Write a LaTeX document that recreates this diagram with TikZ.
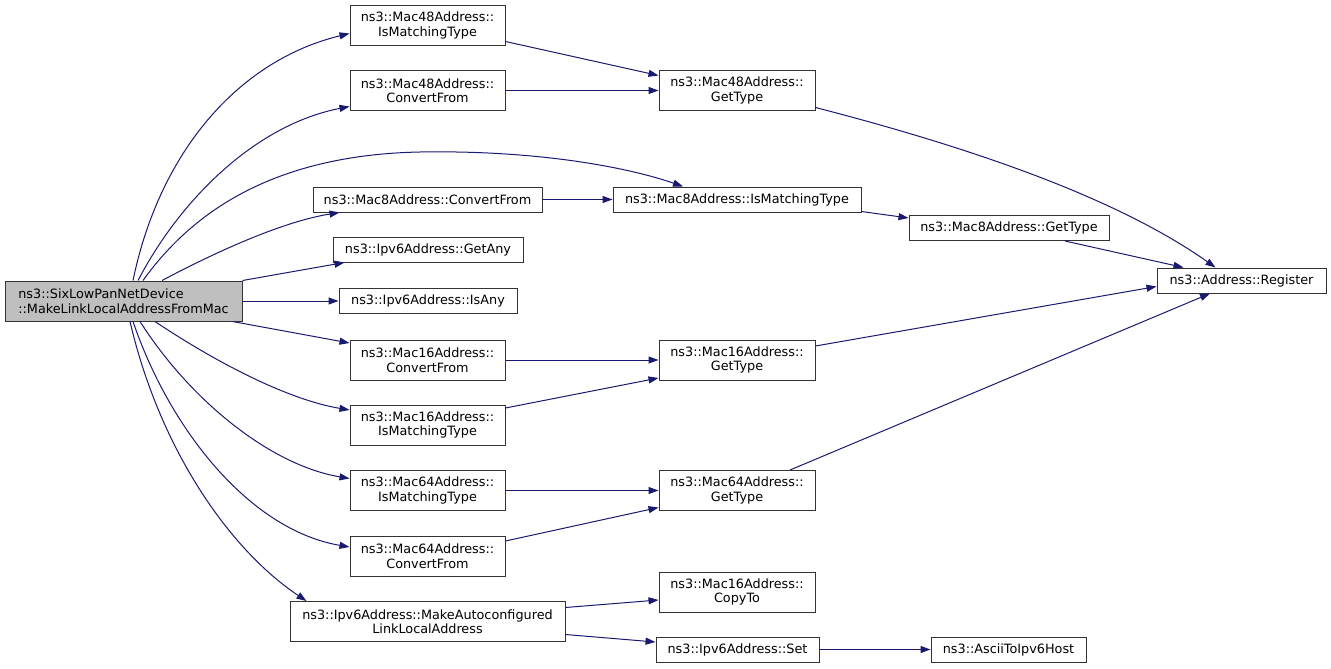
\documentclass[tikz,border=0pt]{standalone}
\usepackage{fontspec}
\setmainfont{DejaVu Sans}
\usetikzlibrary{arrows.meta}
\definecolor{edgecol}{HTML}{191970}
\definecolor{maingray}{HTML}{BFBFBF}
\definecolor{boxline}{HTML}{333333}
\begin{document}
\begin{tikzpicture}[x=1pt,y=-1pt,
  box/.style={draw=boxline, fill=white, line width=1pt, inner sep=0pt, align=center,
    font=\fontsize{12.8}{14.5}\selectfont, minimum height=40pt},
  sbox/.style={box, minimum height=25pt},
  edge/.style={draw=edgecol, line width=1pt, -{Triangle[length=10pt,width=7pt]}}]
\useasboundingbox (0,0) rectangle (1331,669);
% nodes
\node[box, fill=maingray, minimum width=237pt, align=left] (m) at (123.5,301) {ns3::SixLowPanNetDevice\\::MakeLinkLocalAddressFromMac};
\node[box, minimum width=155pt] (a48i) at (427.5,25.5) {ns3::Mac48Address::\\IsMatchingType};
\node[box, minimum width=155pt] (a48c) at (427.5,90.5) {ns3::Mac48Address::\\ConvertFrom};
\node[box, minimum width=156pt] (a48g) at (737,90.5) {ns3::Mac48Address::\\GetType};
\node[sbox, minimum width=229pt] (a8c) at (427.5,199.5) {ns3::Mac8Address::ConvertFrom};
\node[sbox, minimum width=248pt] (a8i) at (737,199.5) {ns3::Mac8Address::IsMatchingType};
\node[sbox, minimum width=200pt] (a8g) at (1009,228) {ns3::Mac8Address::GetType};
\node[sbox, minimum width=190pt] (ga) at (428,249.5) {ns3::Ipv6Address::GetAny};
\node[sbox, minimum width=178pt] (ia) at (428,301) {ns3::Ipv6Address::IsAny};
\node[sbox, minimum width=169pt] (reg) at (1241.5,280.5) {ns3::Address::Register};
\node[box, minimum width=155pt] (a16c) at (427.5,360) {ns3::Mac16Address::\\ConvertFrom};
\node[box, minimum width=156pt] (a16g) at (737,360) {ns3::Mac16Address::\\GetType};
\node[box, minimum width=155pt] (a16i) at (427.5,425) {ns3::Mac16Address::\\IsMatchingType};
\node[box, minimum width=155pt] (a64i) at (427.5,490.5) {ns3::Mac64Address::\\IsMatchingType};
\node[box, minimum width=156pt] (a64g) at (737,490.5) {ns3::Mac64Address::\\GetType};
\node[box, minimum width=155pt] (a64c) at (427.5,556) {ns3::Mac64Address::\\ConvertFrom};
\node[box, minimum width=275pt] (mk) at (427.5,621.5) {ns3::Ipv6Address::MakeAutoconfigured\\LinkLocalAddress};
\node[box, minimum width=156pt] (cp) at (737,592) {ns3::Mac16Address::\\CopyTo};
\node[sbox, minimum width=163pt] (set) at (737.5,649.5) {ns3::Ipv6Address::Set};
\node[sbox, minimum width=155pt] (asc) at (1008.5,649.5) {ns3::AsciiToIpv6Host};
% edges from main
\draw[edge] ([xshift=9.5pt]m.north) .. controls (160,150) and (240,60) .. ([yshift=-8pt]a48i.west);
\draw[edge] ([xshift=14.5pt]m.north) .. controls (180,200) and (255,125) .. ([yshift=-16pt]a48c.west);
\draw[edge] ([xshift=19.5pt]m.north) .. controls (190,215) and (270,155) .. (420,152) .. controls (540,150) and (630,168) .. ([xshift=-54pt]a8i.north);
\draw[edge] ([xshift=38.5pt]m.north) .. controls (210,255) and (280,222) .. ([xshift=27pt]a8c.south west);
\draw[edge] (m.north east) -- ([xshift=12pt]ga.south west);
\draw[edge] (m.east) -- (ia.west);
\draw[edge] ([xshift=-10pt]m.south east) -- ([yshift=17pt]a16c.west);
\draw[edge] ([xshift=31.5pt]m.south) .. controls (220,365) and (290,400) .. ([yshift=15pt]a16i.west);
\draw[edge] ([xshift=16.5pt]m.south) .. controls (190,400) and (270,465) .. ([yshift=12pt]a64i.west);
\draw[edge] ([xshift=9.5pt]m.south) .. controls (170,430) and (250,530) .. ([yshift=9pt]a64c.west);
\draw[edge] ([xshift=6.5pt]m.south) .. controls (160,450) and (230,550) .. ([xshift=17pt]mk.north west);
% other edges
\draw[edge] ([yshift=-16pt]a48i.east) -- ([yshift=15pt]a48g.west);
\draw[edge] (a48c.east) -- (a48g.west);
\draw[edge] ([yshift=-17pt]a48g.east) .. controls (980,150) and (1120,200) .. ([xshift=-26pt]reg.north);
\draw[edge] (a8c.east) -- (a8i.west);
\draw[edge] ([yshift=-12pt]a8i.east) -- ([yshift=10pt]a8g.west);
\draw[edge] ([xshift=56pt]a8g.south) -- ([xshift=-58pt]reg.north);
\draw[edge] ([yshift=14pt]a16g.east) -- ([yshift=-6pt]reg.west);
\draw[edge] (a16c.east) -- (a16g.west);
\draw[edge] ([yshift=17pt]a16i.east) -- ([yshift=-18pt]a16g.west);
\draw[edge] (a64i.east) -- (a64g.west);
\draw[edge] ([yshift=15pt]a64c.east) -- ([yshift=-17pt]a64g.west);
\draw[edge] ([xshift=53pt]a64g.north) -- ([xshift=-31.5pt]reg.south);
\draw[edge] ([yshift=14pt]mk.east) -- ([yshift=-8pt]cp.west);
\draw[edge] ([yshift=-13pt]mk.east) -- ([yshift=7.5pt]set.west);
\draw[edge] (set.east) -- (asc.west);
\end{tikzpicture}
\end{document}
